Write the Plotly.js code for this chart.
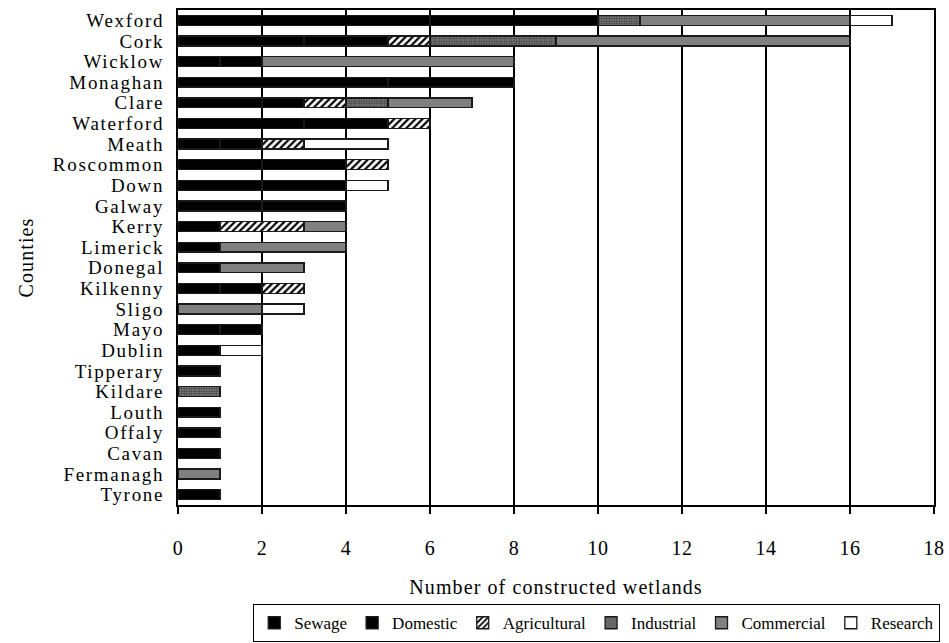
<!DOCTYPE html>
<html>
<head>
<meta charset="utf-8">
<script src="https://cdn.plot.ly/plotly-3.0.1.min.js"></script>
<style>
html,body{margin:0;padding:0;background:#fff;}
#chart{width:949px;height:643px;}
.ytick text{letter-spacing:1.7px;}
.xtick text{letter-spacing:0.5px;}
.g-xtitle text,.g-ytitle text{letter-spacing:1.1px;}
</style>
</head>
<body>
<div id="chart"></div>
<script>
const counties = ["Wexford","Cork","Wicklow","Monaghan","Clare","Waterford","Meath","Roscommon","Down","Galway","Kerry","Limerick","Donegal","Kilkenny","Sligo","Mayo","Dublin","Tipperary","Kildare","Louth","Offaly","Cavan","Fermanagh","Tyrone"];
const sewage       = [6,3,1,5,2,3,1,2,2,2,1,1,1,1,0,1,1,1,0,1,1,1,0,1];
const domestic     = [4,2,1,3,1,2,1,2,2,2,0,0,0,1,0,1,0,0,0,0,0,0,0,0];
const agricultural = [0,1,0,0,1,1,1,1,0,0,2,0,0,1,0,0,0,0,0,0,0,0,0,0];
const industrial   = [1,3,0,0,1,0,0,0,0,0,0,0,0,0,0,0,0,0,1,0,0,0,0,0];
const commercial   = [5,7,6,0,2,0,0,0,0,0,1,3,2,0,2,0,0,0,0,0,0,0,1,0];
const research     = [1,0,0,0,0,0,2,0,1,0,0,0,0,0,1,0,1,0,0,0,0,0,0,0];

const line = {color:'#1a1a1a', width:1.3};
function tr(name, vals, marker){
  return {type:'bar', orientation:'h', name:name, y:counties, x:vals,
    marker:Object.assign({line:line}, marker), hoverinfo:'x+y'};
}
const data = [
  tr('Sewage', sewage, {color:'#000000'}),
  tr('Domestic', domestic, {color:'#000000'}),
  tr('Agricultural', agricultural, {color:'#ffffff', pattern:{shape:'/', fgcolor:'#000', bgcolor:'#fff', size:5, solidity:0.45}}),
  tr('Industrial', industrial, {color:'#6a6a6a', pattern:{shape:'.', fgcolor:'#3a3a3a', bgcolor:'#8c8c8c', size:2.5, solidity:0.5}}),
  tr('Commercial', commercial, {color:'#808080'}),
  tr('Research', research, {color:'#ffffff'})
];
const font = {family:'"Liberation Serif", "Times New Roman", serif', color:'#000'};
const layout = {
  width:949, height:643,
  margin:{l:178, r:15, t:10, b:138, autoexpand:false},
  paper_bgcolor:'#fff', plot_bgcolor:'#fff',
  barmode:'stack', bargap:0.52,
  font:Object.assign({size:18}, font),
  showlegend:true,
  legend:{orientation:'h', x:1.008, xanchor:'right', y:-0.2, yanchor:'top',
    bordercolor:'#000', borderwidth:1.2, font:Object.assign({size:17}, font),
    traceorder:'normal', itemwidth:30, tracegroupgap:0},
  xaxis:{range:[0,18], dtick:2, tick0:0, showgrid:true, gridcolor:'#000', gridwidth:2,
    showline:true, linecolor:'#000', linewidth:2, mirror:true,
    ticks:'outside', ticklen:7, tickcolor:'#000', tickwidth:2,
    ticklabelstandoff:17,
    tickfont:Object.assign({size:20}, font), zeroline:false,
    title:{text:'Number of constructed wetlands', font:Object.assign({size:20}, font), standoff:22}},
  yaxis:{type:'category', autorange:'reversed', showgrid:false,
    tickmode:'array', tickvals:counties, ticktext:counties,
    showline:true, linecolor:'#000', linewidth:2, mirror:true, ticks:'',
    ticklabelstandoff:8,
    tickfont:Object.assign({size:19}, font),
    title:{text:'Counties', font:Object.assign({size:20}, font), standoff:14}}
};
Plotly.newPlot('chart', data, layout, {displayModeBar:false, staticPlot:true});
</script>
</body>
</html>
